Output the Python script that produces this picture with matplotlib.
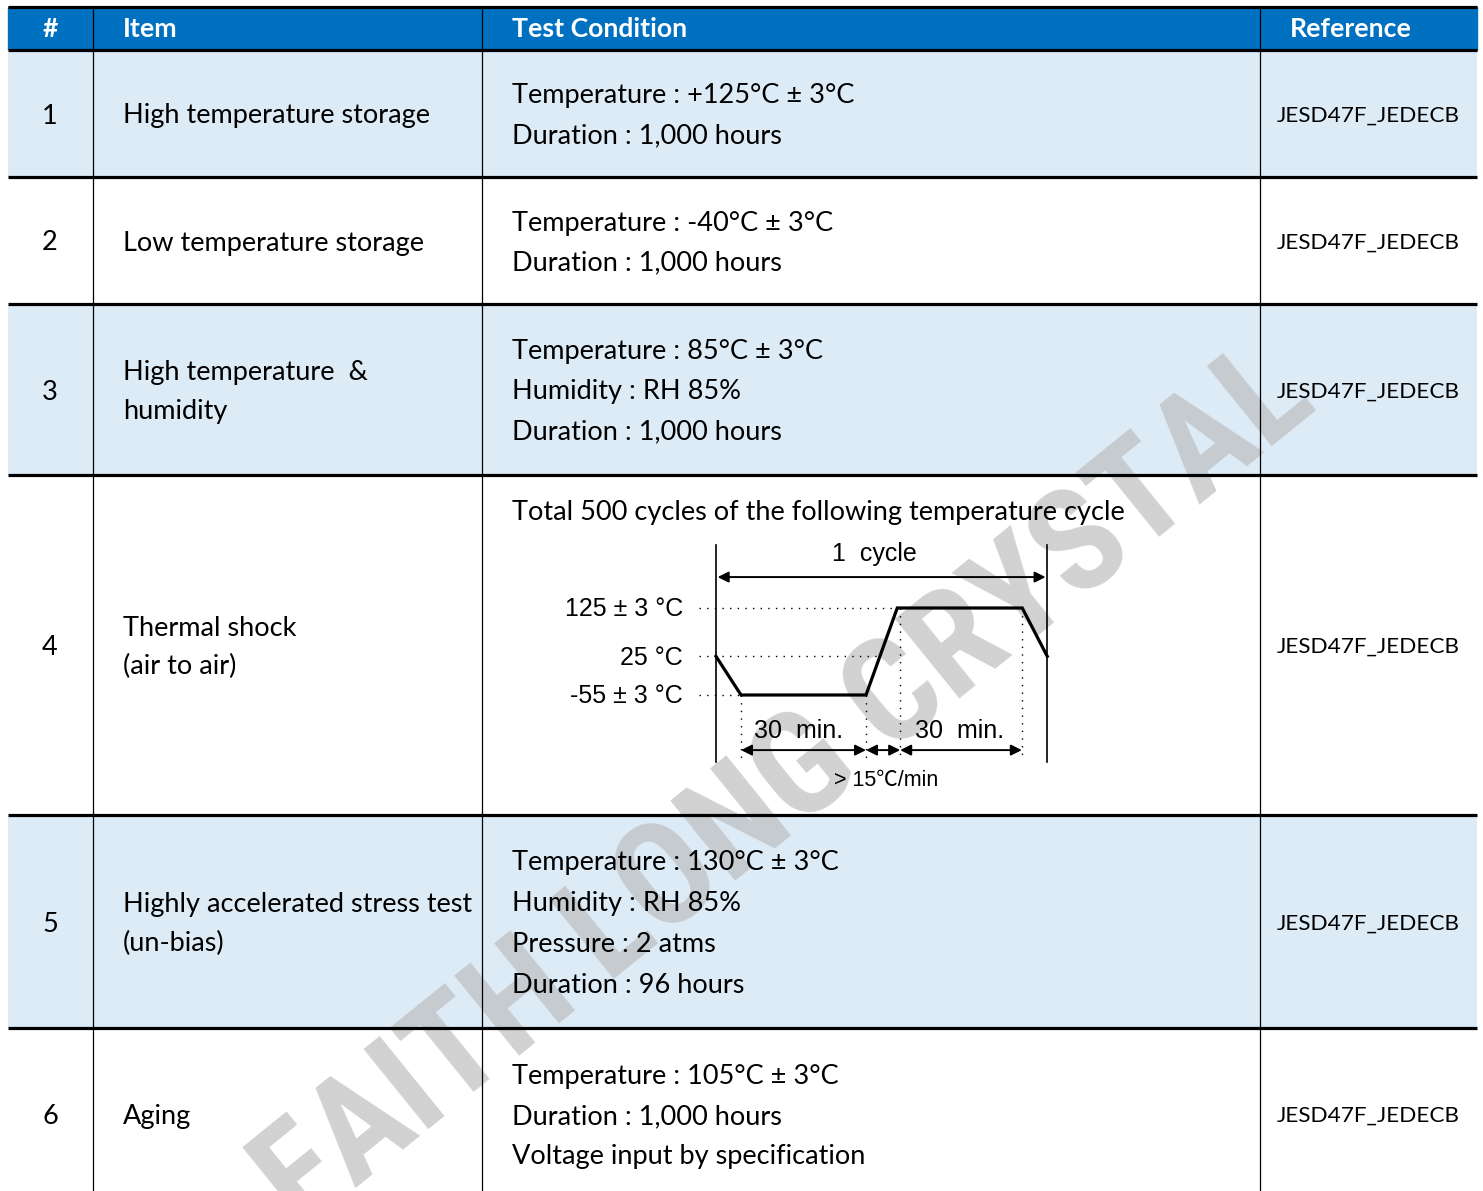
import matplotlib
matplotlib.use('Agg')
import matplotlib.pyplot as plt
from matplotlib.patches import Rectangle
from matplotlib import font_manager

W, H = 1483, 1191

headers = ['#', 'Item', 'Test Condition', 'Reference']
numbers = ['1', '2', '3', '4', '5', '6']
items = ['High temperature storage',
         'Low temperature storage',
         'High temperature  &\nhumidity',
         'Thermal shock\n(air to air)',
         'Highly accelerated stress test\n(un-bias)',
         'Aging']
conditions = [['Temperature : +125°C ± 3°C', 'Duration : 1,000 hours'],
              ['Temperature : -40°C ± 3°C', 'Duration : 1,000 hours'],
              ['Temperature : 85°C ± 3°C', 'Humidity : RH 85%', 'Duration : 1,000 hours'],
              ['Total 500 cycles of the following temperature cycle'],
              ['Temperature : 130°C ± 3°C', 'Humidity : RH 85%', 'Pressure : 2 atms', 'Duration : 96 hours'],
              ['Temperature : 105°C ± 3°C', 'Duration : 1,000 hours', 'Voltage input by specification']]
references = ['JESD47F_JEDECB'] * 6

# thermal shock cycle: time (min) vs temperature (degC)
cycle_time = [0, 6, 36, 43.5, 73.5, 79.5]
cycle_temp = [25, -55, -55, 125, 125, 25]
level_temp = [125, 25, -55]
level_label = ['125 ± 3 °C', '25 °C', '-55 ± 3 °C']
dwell_label = '30  min.'
ramp_label = '> 15℃/min'

watermark = 'FAITH LONG CRYSTAL'

col_x = [8, 93, 482, 1260, 1477]
row_y = [50, 177, 304, 475, 815, 1028, 1200]

blue = '#0070C0'
light = '#DDEBF7'
body = ['Lato', 'DejaVu Sans']

# pick a condensed family for the watermark if one is installed
installed = {f.name for f in font_manager.fontManager.ttflist}
wm_family = 'Liberation Sans'
for cand in ['Liberation Sans Narrow', 'DejaVu Sans Condensed', 'Roboto Condensed']:
    if cand in installed:
        wm_family = cand
        break
narrow = ['Liberation Sans', 'DejaVu Sans']

fig = plt.figure(figsize=(W / 100, H / 100), dpi=100)
ax = fig.add_axes([0, 0, 1, 1])
ax.set_xlim(0, W)
ax.set_ylim(H, 0)
ax.axis('off')

# header
ax.add_patch(Rectangle((col_x[0], 7), col_x[-1] - col_x[0], 43, color=blue, zorder=0))
hx = [50, 123, 512, 1351]
for i, h in enumerate(headers):
    ax.text(hx[i], 37, h, ha='center' if i in (0, 3) else 'left', va='baseline',
            color='white', fontsize=19.2, fontweight='bold', family=body, zorder=3)

# row fills
for r in range(len(numbers)):
    if r % 2 == 0:
        ax.add_patch(Rectangle((col_x[0], row_y[r]), col_x[-1] - col_x[0],
                               row_y[r + 1] - row_y[r], color=light, lw=0, zorder=0))

# watermark (behind lines and text)
wm_size = 104 if wm_family != 'Liberation Sans' else 96
ax.text(1320, 408, watermark, rotation=39, rotation_mode='anchor', ha='right', va='baseline',
        fontsize=wm_size, fontweight='bold', family=[wm_family, 'DejaVu Sans'],
        color='#bcbcbc', alpha=0.68, zorder=1)

# grid lines
for y in [7] + row_y[:-1]:
    ax.plot([col_x[0], col_x[-1]], [y, y], color='black', lw=2.3, zorder=4, solid_capstyle='butt')
for x in col_x[1:-1]:
    ax.plot([x, x], [7, H], color='black', lw=0.9, zorder=4)

def centre_lines(y_mid, n, step):
    return [y_mid + (k - (n - 1) / 2) * step for k in range(n)]

fs = 19.5
off = 10   # centre -> baseline
for r in range(len(numbers)):
    y_mid = (row_y[r] + row_y[r + 1]) / 2
    ax.text(50, y_mid + off, numbers[r], ha='center', va='baseline', fontsize=fs, family=body, zorder=3)
    lines = items[r].split('\n')
    for yy, s in zip(centre_lines(y_mid, len(lines), 39), lines):
        ax.text(123, yy + off, s, ha='left', va='baseline', fontsize=fs, family=body, zorder=3)
    ax.text(1368, y_mid + 8, references[r], ha='center', va='baseline', fontsize=16.2, family=body, zorder=3)
    if r == 3:
        ax.text(512, 510 + off, conditions[r][0], ha='left', va='baseline', fontsize=fs, family=body, zorder=3)
    else:
        c = conditions[r]
        step = 41 if len(c) > 3 else 40
        for yy, s in zip(centre_lines(y_mid, len(c), step), c):
            ax.text(512, yy + off, s, ha='left', va='baseline', fontsize=fs, family=body, zorder=3)

# thermal shock diagram in its own axes (min, degC)
k = 125 / 30.0           # px per minute
m = 87 / 180.0           # px per degC
t0, ym55 = 716, 695      # pixel of t=0 and of -55 degC
bl, br, bt, bb = 540, 1070, 530, 800
d = fig.add_axes([bl / W, 1 - bb / H, (br - bl) / W, (bb - bt) / H])
d.set_xlim((bl - t0) / k, (br - t0) / k)
d.set_ylim(-55 - (bb - ym55) / m, -55 + (ym55 - bt) / m)
d.axis('off')
d.patch.set_alpha(0)

t_end = cycle_time[-1]
top, bot = 255, -194
d.plot([0, 0], [top, bot], color='black', lw=1.2)
d.plot([t_end, t_end], [top, bot], color='black', lw=1.2)
d.plot(cycle_time, cycle_temp, color='black', lw=2.3, solid_joinstyle='miter')

dot = dict(color='black', lw=1.0, ls=(0, (1, 4.5)))
d.plot([-4, cycle_time[3]], [level_temp[0]] * 2, **dot)
d.plot([-4, 39.5], [level_temp[1]] * 2, **dot)
d.plot([-4, cycle_time[1]], [level_temp[2]] * 2, **dot)
for tx, ty in [(cycle_time[1], -55), (cycle_time[2], -55), (44.2, 125), (73.4, 125)]:
    d.plot([tx, tx], [ty, -190], **dot)

for lv, lab in zip(level_temp, level_label):
    d.text(-7.9, lv - 3, lab, ha='right', va='center', fontsize=18, family=narrow)

arw = dict(arrowstyle='<|-|>', color='black', lw=1.4, mutation_scale=16, shrinkA=0, shrinkB=0)
d.annotate('', xy=(0.4, 189), xytext=(t_end - 0.4, 189), arrowprops=arw)
for a, b in [(cycle_time[1], cycle_time[2]), (cycle_time[2], 44.2), (44.2, 73.4)]:
    d.annotate('', xy=(a, -169), xytext=(b, -169), arrowprops=arw)

d.text(38, 236, '1  cycle', ha='center', va='center', fontsize=18, family=narrow)
d.text(19.9, -129, dwell_label, ha='center', va='center', fontsize=18, family=narrow)
d.text(58.4, -129, dwell_label, ha='center', va='center', fontsize=18, family=narrow)
d.text(40.8, -231, ramp_label, ha='center', va='center', fontsize=15.5,
       family=['Liberation Sans', 'Noto Sans CJK JP', 'DejaVu Sans'])

fig.savefig('out.png', dpi=100)
